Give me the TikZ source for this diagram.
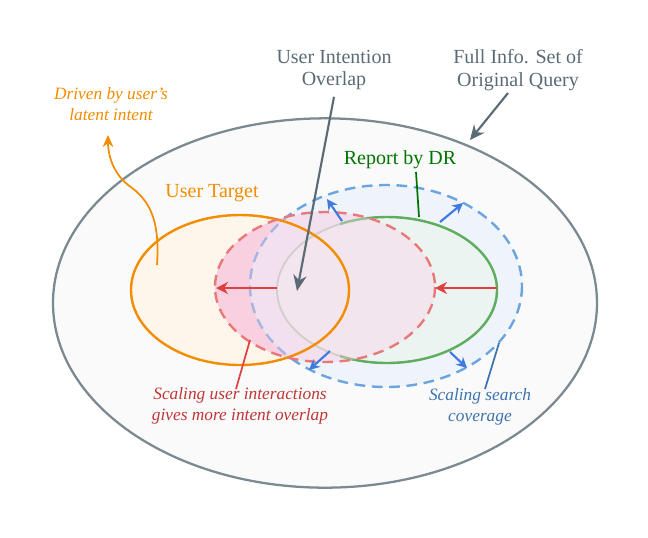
\documentclass[tikz,border=0pt]{standalone}
\usepackage{fontspec}
\setmainfont{Liberation Serif}
\usetikzlibrary{arrows.meta,shapes.geometric}
\begin{document}
\definecolor{og}{HTML}{F28C00}
\definecolor{gr}{HTML}{5FAE5F}
\definecolor{bl}{HTML}{4A90D9}
\definecolor{rd}{HTML}{E04040}
\definecolor{sl}{HTML}{5A6B75}
\begin{tikzpicture}[x=0.75pt,y=-0.75pt,
  lab/.style={font=\fontsize{15}{17}\selectfont,align=center},
  ilab/.style={font=\fontsize{13}{15.5}\selectfont\itshape,align=center},
  ba/.style={-{Stealth[length=8pt,width=8pt]},bl!85!blue,line width=1.6pt},
  ra/.style={-{Stealth[length=9pt,width=9pt]},rd,line width=1.7pt}]
\useasboundingbox (0,0) rectangle (648,537);
\node[draw=sl!80,line width=1.7pt,fill=black!2,ellipse,minimum width=408pt,minimum height=277pt,inner sep=0] (big) at (325,303) {};
\fill[og!8] (240,290) ellipse (109 and 75);
\fill[magenta!55!purple!25,opacity=0.8] (325,287) ellipse (110 and 75);
\fill[bl!12,opacity=0.7] (386,286) ellipse (136 and 101);
\fill[gr!12,opacity=0.5] (387,290) ellipse (110 and 73);
\draw[gr!40!gray!50,line width=1.4pt] (387,290) ellipse (110 and 73);
\draw[bl,dashed,dash pattern=on 8pt off 5pt,line width=1.8pt,opacity=0.8] (386,286) ellipse (136 and 101);
\begin{scope}
\clip (340,150) rectangle (648,450);
\draw[gr,line width=1.8pt] (387,290) ellipse (110 and 73);
\end{scope}
\fill[magenta!15,opacity=0.4] (325,287) ellipse (110 and 75);
\draw[og,line width=1.8pt] (240,290) ellipse (109 and 75);
\draw[rd!70,dashed,dash pattern=on 8pt off 5pt,line width=1.8pt] (325,287) ellipse (110 and 75);
\coordinate (r1s) at (277,288); \coordinate (r1e) at (216,288);
\coordinate (r2s) at (497,288); \coordinate (r2e) at (435,288);
\draw[ra] (r1s) -- (r1e);
\draw[ra] (r2s) -- (r2e);
\coordinate (b1s) at (342,221); \coordinate (b1e) at (327,199);
\coordinate (b2s) at (440,222); \coordinate (b2e) at (463,203);
\coordinate (b3s) at (330,351); \coordinate (b3e) at (309,370);
\coordinate (b4s) at (450,352); \coordinate (b4e) at (467,368);
\draw[ba] (b1s)--(b1e); \draw[ba] (b2s)--(b2e); \draw[ba] (b3s)--(b3e); \draw[ba] (b4s)--(b4e);
\node[lab,text=sl] (uio) at (334,70) {User Intention\\Overlap};
\node[lab,text=sl] (full) at (518,70) {Full Info. Set of\\Original Query};
\node[lab,text=green!45!black] (rep) at (400,160) {Report by DR};
\node[lab,text=og] (ut) at (212,193) {User Target};
\node[ilab,text=og] (drv) at (111,104) {Driven by user's\\latent intent};
\node[ilab,text=rd!85!black] (scu) at (240,406) {Scaling user interactions\\gives more intent overlap};
\node[ilab,text=bl!80!black] (scs) at (480,407) {Scaling search\\coverage};
\coordinate (ctr) at (297,291);
\draw[sl,line width=1.6pt,-{Stealth[length=12pt,width=10pt]}] (uio.south) ++(0,2) -- (ctr);
\draw[sl,line width=1.6pt,-{Stealth[length=11pt,width=10pt]}] (508,93) -- (470,140);
\draw[green!45!black,line width=1.3pt] (416,172) -- (419,217);
\draw[og,line width=1.3pt,-{Stealth[length=9pt,width=8pt]}] (157,265) .. controls (160,220) and (150,200) .. (128,185) .. controls (110,170) and (108,150) .. (108,135);
\draw[rd,line width=1.3pt] (236,389) -- (250,340);
\draw[bl!80!black,line width=1.3pt] (485,389) -- (499,343);
\end{tikzpicture}
\end{document}
